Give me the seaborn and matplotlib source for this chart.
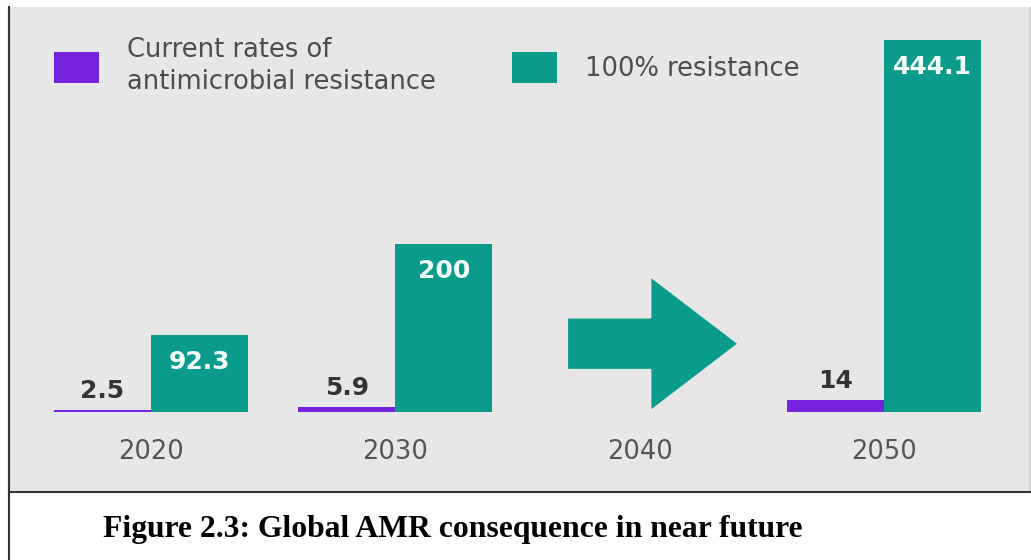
import matplotlib
matplotlib.use("Agg")
import matplotlib.pyplot as plt
from matplotlib.patches import FancyArrow
from matplotlib.lines import Line2D
import pandas as pd
import seaborn as sns

# ---- data -------------------------------------------------------------
years = ["2020", "2030", "2040", "2050"]
data_years = ["2020", "2030", "2050"]
current_rates = [2.5, 5.9, 14]
full_resistance = [92.3, 200, 444.1]
series_labels = ["Current rates of\nantimicrobial resistance", "100% resistance"]
caption = "Figure 2.3: Global AMR consequence in near future"

# ---- style ------------------------------------------------------------
PURPLE = "#7524dd"
GREEN = "#0a9b8b"
PANEL = "#e7e7e7"
TEXT_GRAY = "#4d4d4d"

sns.set_theme(style="white")
plt.rcParams["font.family"] = ["DejaVu Sans"]

W, H, DPI = 1031, 560, 100
fig = plt.figure(figsize=(W / DPI, H / DPI), dpi=DPI, facecolor="white")

# panel area in pixels
left_px, right_px, top_px, bottom_px = 9, 1030, 7, 492
ax = fig.add_axes([left_px / W, 1 - bottom_px / H,
                   (right_px - left_px) / W, (bottom_px - top_px) / H])
ax.set_facecolor(PANEL)

df = pd.DataFrame({
    "year": data_years * 2,
    "deaths": current_rates + full_resistance,
    "scenario": [series_labels[0]] * len(data_years) + [series_labels[1]] * len(data_years),
})

sns.barplot(data=df, x="year", y="deaths", hue="scenario", order=years,
            hue_order=series_labels, palette=[PURPLE, GREEN], width=0.794,
            saturation=1, linewidth=0, errorbar=None, ax=ax)

# axis scaling: category spacing 244.33 px, 0.838 px per unit
xs = 244.33
ys = 0.838
baseline_px = 412
xmin = -(151 - left_px) / xs
ax.set_xlim(xmin, xmin + (right_px - left_px) / xs)
ax.set_ylim(-(bottom_px - baseline_px) / ys, (baseline_px - top_px) / ys)

ax.set_xticks([])
ax.set_yticks([])
ax.set_xlabel("")
ax.set_ylabel("")

for side in ("left", "bottom"):
    ax.spines[side].set_visible(True)
    ax.spines[side].set_color("#333333")
    ax.spines[side].set_linewidth(1.5)
ax.spines["right"].set_visible(True)
ax.spines["right"].set_color("#c4c4c4")
ax.spines["right"].set_linewidth(1.0)
ax.spines["top"].set_visible(False)

# value labels
purple_bars, green_bars = ax.containers[0], ax.containers[1]
for bar in purple_bars:
    h = bar.get_height()
    ax.annotate(f"{h:g}", (bar.get_x() + bar.get_width() / 2, h),
                xytext=(0, 19), textcoords="offset pixels",
                ha="center", va="center", fontsize=18, fontweight="bold",
                color="#333333")
for bar in green_bars:
    h = bar.get_height()
    ax.annotate(f"{h:g}", (bar.get_x() + bar.get_width() / 2, h),
                xytext=(0, -27), textcoords="offset pixels",
                ha="center", va="center", fontsize=18, fontweight="bold",
                color="#f2fffb")

# year labels under the bars
for i, yr in enumerate(years):
    ax.text(i, -(452 - baseline_px) / ys, yr, ha="center", va="center",
            fontsize=18.5, color="#555555")

# arrow standing in for the 2040 step
gap_idx = years.index("2040")
ax.add_patch(FancyArrow(gap_idx - 0.293, 81.5, 0.691, 0, width=60,
                        head_width=156, head_length=0.35,
                        length_includes_head=True, color=GREEN, linewidth=0))

# legend
handles, _ = ax.get_legend_handles_labels()
if ax.get_legend() is not None:
    ax.get_legend().remove()
fs = 18.5
fs_px = fs * DPI / 72
leg = ax.legend(handles, series_labels, ncol=2, frameon=False,
                loc="center left",
                bbox_to_anchor=(54 / W, 1 - 66 / H),
                bbox_transform=fig.transFigure,
                fontsize=fs, labelcolor=TEXT_GRAY,
                handlelength=45 / fs_px, handleheight=37 / fs_px,
                handletextpad=28 / fs_px, columnspacing=2.95,
                borderpad=0, borderaxespad=0)
for t in leg.get_texts():
    t.set_linespacing(1.3)

# left frame rule continues past the panel around the caption
fig.add_artist(Line2D([left_px / W, left_px / W], [0, 1 - top_px / H],
                      transform=fig.transFigure, color="#333333", linewidth=1.5))

fig.text(103 / W, 1 - 530 / H, caption, ha="left", va="center",
         family="Liberation Serif", fontweight="bold", fontsize=22.8,
         color="black")

fig.savefig("out.png", dpi=DPI, facecolor="white")
